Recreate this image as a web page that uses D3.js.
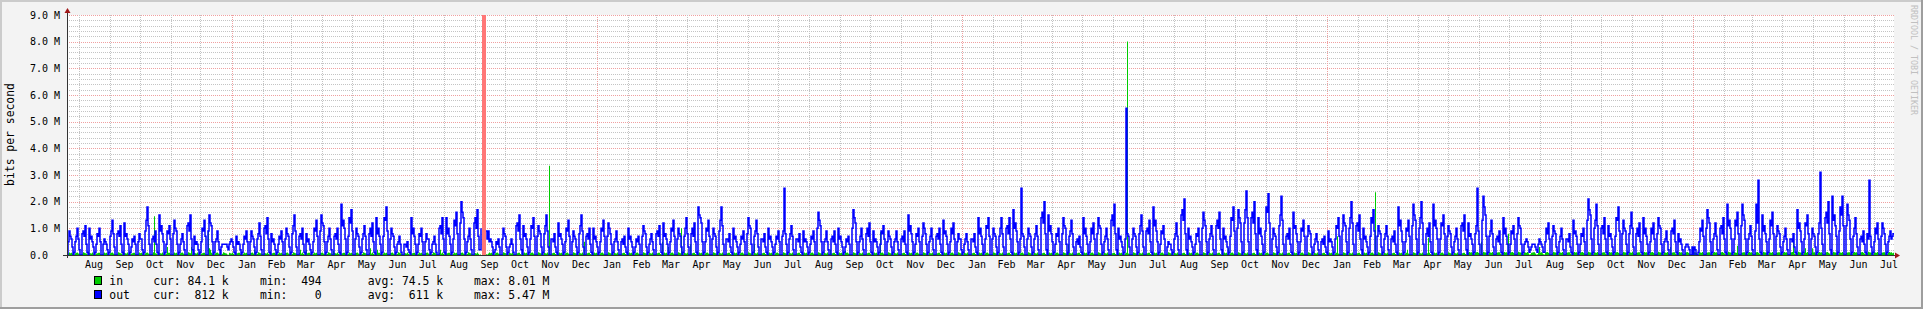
<!DOCTYPE html>
<html><head><meta charset="utf-8">
<script src="https://cdn.jsdelivr.net/npm/d3@7"></script>
<style>
html,body{margin:0;padding:0;background:#f3f3f3;}
svg{display:block;}
text{font-family:"DejaVu Sans Mono",monospace;white-space:pre;}
</style>
</head><body>
<svg id="chart" width="1923" height="309"></svg>
<script>
// ---------- data ----------
const startDate = "2008-07-20T12:00:00Z";   // first daily sample
const dayCount = 1827;
const outUnit = 1e5;   // outValues are in 0.1 Mbit/s
const inUnit = 1e4;    // inValues are in 0.01 Mbit/s
const outValues = [
0,5,9,7,6,3,0, 1,5,7,10,6,2,0, 0,8,9,7,11,4,1, 0,10,6,7,5,3,0,
1,4,8,7,10,5,0, 0,4,6,5,4,2,0, 1,7,9,13,8,3,0, 0,8,9,7,11,4,1,
0,12,7,8,6,4,0, 1,3,6,5,7,4,0, 0,5,8,6,6,2,0, 1,9,13,18,11,4,0,
0,6,7,5,9,4,1, 0,15,9,11,8,5,0, 1,4,9,8,11,6,0, 0,8,13,10,9,4,0,
1,4,6,8,5,2,0, 0,11,12,9,15,6,2, 0,7,4,5,4,2,0, 1,5,10,9,13,7,0,
0,9,15,12,11,5,0, 1,5,6,9,5,2,0, 3,4,4,4,4,4,3, 2,4,5,6,5,3,1,
0,7,4,5,4,2,0, 1,4,7,6,9,5,0, 0,5,9,7,6,3,0, 1,6,8,12,7,2,0,
0,10,11,8,14,6,1, 0,8,5,6,4,2,0, 1,4,7,6,9,5,0, 0,6,10,8,7,3,0,
1,8,11,15,9,3,0, 0,7,8,6,10,4,1, 0,8,5,6,4,2,0, 1,5,10,9,13,7,0,
0,9,15,12,11,5,0, 1,5,7,10,6,2,0, 0,7,8,6,10,4,1, 0,19,11,13,10,6,0,
1,7,14,12,17,9,0, 0,6,10,8,7,3,0, 1,6,8,11,7,2,0, 0,8,10,7,12,5,1,
0,14,8,10,7,4,0, 1,7,14,13,18,9,0, 0,6,10,8,7,3,0, 1,4,5,7,4,1,0,
0,4,4,3,5,2,1, 0,14,8,10,7,4,0, 1,4,8,7,10,5,0, 0,5,8,6,6,2,0,
1,4,5,7,4,1,0, 0,10,11,8,14,6,1, 0,14,8,10,7,4,0, 1,6,13,11,16,8,0,
0,12,20,16,14,6,0, 1,5,7,10,6,2,0, 0,12,14,10,17,7,2, 2,10,null,null,null,null,9,
6,9,5,6,5,3,0, 1,2,5,4,6,3,0, 0,6,10,8,7,3,0, 1,3,4,6,4,1,0,
0,11,12,9,15,6,2, 0,11,7,8,6,3,0, 1,6,11,10,14,7,0, 0,7,11,9,8,3,0,
1,8,11,15,9,3,0, 0,6,6,5,8,3,1, 0,12,7,8,6,4,0, 1,5,10,9,13,7,0,
0,5,9,7,6,3,0, 1,8,11,15,9,3,0, 0,7,8,6,10,4,1, 0,10,6,7,5,3,0,
1,5,10,9,13,7,0, 0,7,12,10,8,4,0, 1,5,6,9,5,2,0, 0,5,6,4,7,3,1,
0,10,6,7,5,3,0, 1,3,6,5,7,4,0, 0,7,11,9,8,3,0, 1,4,6,8,5,2,0,
0,8,9,7,11,4,1, 0,12,7,8,6,4,0, 1,5,10,9,13,7,0, 0,6,10,8,7,3,0,
1,7,10,14,8,3,0, 0,8,10,7,12,5,1, 0,18,15,14,12,5,0, 1,5,10,9,13,7,0,
0,6,10,8,7,3,0, 1,9,13,18,11,4,0, 0,6,6,5,8,3,1, 0,10,6,7,5,3,0,
1,4,7,6,9,5,0, 0,8,14,11,10,4,0, 1,7,9,13,8,3,0, 0,6,6,5,8,3,1,
0,10,6,7,5,3,0, 1,4,7,6,9,5,0, 0,7,9,25,8,4,0, 1,6,8,11,7,2,0,
0,6,6,5,8,3,1, 0,9,5,6,5,3,0, 1,4,7,6,9,5,0, 0,10,16,13,11,5,0,
1,5,6,9,5,2,0, 0,6,7,5,9,4,1, 0,10,6,7,5,3,0, 1,3,6,5,7,4,0,
0,10,17,14,12,5,0, 1,5,7,10,6,2,0, 0,8,10,7,12,5,1, 0,9,5,6,5,3,0,
1,4,9,8,11,6,0, 0,5,9,7,6,3,0, 1,5,6,9,5,2,0, 0,6,7,5,9,4,1,
0,15,9,11,8,5,0, 1,4,8,7,10,5,0, 0,7,12,10,8,4,0, 1,5,7,10,6,2,0,
0,7,8,6,10,4,1, 0,13,8,9,7,4,0, 1,5,10,8,12,6,0, 0,5,8,6,6,2,0,
1,4,6,8,5,2,0, 0,6,6,5,8,3,1, 0,14,8,10,7,4,0, 1,6,11,10,14,7,0,
0,6,10,8,7,3,0, 1,7,10,14,8,3,0, 0,10,11,8,14,6,1, 0,17,10,12,9,5,0,
1,6,25,8,7,3,0, 0,6,10,8,7,3,0, 1,6,8,11,7,2,0, 0,14,16,12,20,8,2,
0,15,9,11,8,5,0, 1,4,8,7,10,5,0, 0,8,14,11,10,4,0, 1,7,9,13,8,3,0,
0,5,6,4,7,3,1, 0,14,8,10,7,4,0, 1,5,10,8,12,6,0, 0,8,14,11,10,4,0,
1,5,7,10,6,2,0, 0,13,15,11,19,8,2, 0,10,6,7,5,3,0, 1,6,55,8,7,3,0,
0,6,10,8,7,3,0, 1,8,11,15,9,3,0, 0,9,10,8,13,5,1, 0,18,11,13,9,5,0,
1,4,9,8,11,6,0, 0,3,5,4,4,2,0, 1,6,8,12,7,2,0, 0,15,17,13,21,8,2,
0,10,6,7,5,3,0, 1,4,8,7,10,5,0, 0,10,16,13,11,5,0, 1,6,8,11,7,2,0,
0,11,13,10,16,6,2, 0,10,6,7,5,3,0, 1,7,14,13,18,9,0, 0,10,17,14,12,5,0,
1,12,17,24,14,5,0, 0,14,16,12,20,8,2, 0,14,8,10,7,4,0, 1,9,18,16,23,12,0,
0,6,10,8,7,3,0, 1,11,15,22,13,4,0, 0,7,8,6,10,4,1, 0,16,10,11,8,5,0,
1,5,10,9,13,7,0, 0,7,11,9,8,3,0, 1,4,6,8,5,2,0, 0,5,6,4,7,3,1,
0,9,5,6,5,3,0, 1,6,11,10,14,7,0, 0,9,15,12,11,5,0, 1,10,14,20,12,4,0,
0,11,12,9,15,6,2, 0,10,6,7,5,3,0, 1,7,14,12,17,9,0, 0,7,11,9,8,3,0,
1,6,8,11,7,2,0, 0,6,7,5,9,4,1, 0,18,11,13,9,5,0, 1,5,10,9,13,7,0,
0,11,19,15,13,6,0, 1,10,14,20,12,4,0, 0,8,10,7,12,5,1, 0,19,11,13,10,6,0,
1,6,12,11,15,8,0, 0,7,11,9,8,3,0, 1,5,7,10,6,2,0, 0,11,12,9,15,6,2,
0,12,7,8,6,4,0, 1,8,11,25,9,4,0, 0,13,22,18,15,7,0, 1,7,9,13,8,3,0,
0,6,7,5,9,4,1, 0,14,8,10,7,4,0, 1,4,9,8,11,6,0, 0,8,14,11,10,4,0,
1,4,5,6,5,3,1, 2,3,4,4,4,3,2, 1,4,6,5,4,3,1, 1,5,10,8,12,6,0,
0,7,11,9,8,3,0, 1,5,7,10,6,2,0, 0,6,6,5,8,3,1, 0,13,8,9,7,4,0,
1,4,8,7,10,5,0, 0,13,21,17,15,6,0, 1,10,13,19,11,4,0, 0,10,11,8,14,6,1,
0,11,7,8,6,3,0, 1,7,14,13,18,9,0, 0,8,13,10,9,4,0, 1,8,11,16,10,3,0,
0,8,10,7,12,5,1, 0,14,8,10,7,4,0, 1,5,10,8,12,6,0, 0,8,14,11,10,4,0,
1,5,6,9,5,2,0, 0,9,10,8,13,5,1, 0,8,5,6,4,2,0, 0,3,4,4,3,2,0,
0,3,0,3,2,0,0, 1,5,10,9,13,7,0, 0,10,17,14,12,5,0, 1,6,8,12,7,2,0,
0,10,11,8,14,6,1, 0,19,11,13,10,6,0, 1,6,13,11,16,8,0, 0,11,19,15,13,6,0,
1,6,8,11,7,2,0, 0,9,19,12,28,6,1, 0,15,9,11,8,5,0, 1,6,13,11,16,8,0,
0,7,11,9,8,3,0, 1,5,7,10,6,2,0, 0,6,6,5,8,3,1, 0,17,10,12,9,5,0,
1,6,12,11,15,8,0, 0,6,10,8,7,3,0, 1,8,12,31,10,4,0, 0,14,16,12,20,8,2,
0,22,13,15,11,7,0, 1,9,18,15,22,11,0, 0,11,19,15,13,6,0, 1,7,10,14,8,3,0,
0,6,7,5,9,4,1, 0,8,6,28,7,3,0, 1,5,10,8,12,6,0, 0,7,12,10,8,4,0,
1,5,7,9,6,7,8
];
const inValues = [
2,6,9,7,8,5,2, 1,7,8,9,6,4,1, 2,5,10,8,7,6,2, 1,8,7,6,9,5,1,
2,6,7,8,8,4,1, 2,6,9,7,8,5,2, 1,7,8,9,6,4,1, 2,5,10,8,7,6,2,
1,8,7,6,9,5,1, 2,6,7,8,8,4,1, 2,6,9,7,8,5,2, 1,7,8,9,6,4,1,
2,5,10,145,7,6,2, 1,8,7,6,9,5,1, 2,6,30,8,8,4,1, 2,6,9,7,8,5,2,
1,7,8,9,6,4,1, 2,5,10,8,7,30,2, 1,8,7,6,9,5,1, 2,6,7,8,8,4,1,
2,90,25,20,8,5,2, 1,7,8,9,6,4,1, 2,5,10,8,7,6,2, 1,8,7,6,9,5,1,
2,6,7,8,8,4,1, 2,6,9,7,8,5,2, 1,7,8,9,6,20,1, 2,5,10,8,7,6,2,
1,8,7,6,9,5,1, 2,6,7,8,8,4,1, 2,6,9,7,8,5,2, 1,7,8,9,6,4,1,
2,5,10,8,7,6,2, 1,8,20,6,9,5,1, 2,20,7,8,8,4,1, 2,6,9,7,8,5,2,
1,7,8,9,6,4,1, 2,5,10,8,7,6,2, 15,8,7,6,9,5,1, 2,6,7,8,8,4,1,
2,6,9,7,8,5,2, 1,7,8,9,6,4,1, 2,5,10,8,7,6,2, 1,8,25,6,9,5,1,
2,6,20,8,8,4,1, 2,6,9,7,8,5,2, 1,7,8,9,6,4,1, 2,5,10,8,7,6,2,
1,8,7,6,9,5,1, 2,6,7,8,8,4,1, 2,6,9,7,8,5,2, 1,7,8,9,6,4,1,
2,5,10,8,7,6,2, 1,8,20,6,9,5,1, 2,6,7,8,8,4,1, 2,6,9,7,8,5,2,
1,7,8,9,6,4,1, 2,5,10,8,7,6,2, 1,8,7,6,9,5,1, 2,110,null,null,null,null,3,
2,6,9,7,8,5,2, 1,7,8,9,6,4,1, 2,5,10,8,7,6,2, 1,8,7,6,9,5,1,
2,6,7,8,8,4,1, 2,6,9,7,8,5,2, 1,7,8,9,6,4,1, 2,5,10,8,7,6,2,
1,8,7,6,9,5,335, 2,6,7,8,8,4,1, 2,6,9,7,8,5,2, 1,7,8,9,6,4,1,
2,5,10,8,7,6,2, 1,8,7,6,9,5,50, 2,6,7,8,8,4,1, 2,6,9,7,8,5,2,
1,7,8,9,6,4,1, 2,5,10,8,7,6,2, 1,8,7,6,9,5,1, 2,6,7,8,8,4,1,
2,6,9,7,8,5,2, 1,7,8,9,6,4,1, 2,5,10,8,7,6,2, 1,8,7,6,9,5,1,
2,6,7,8,8,4,1, 50,6,9,7,8,5,30, 1,7,8,9,6,4,1, 2,5,10,8,7,100,2,
1,8,7,6,9,5,1, 40,6,7,8,8,4,1, 2,6,9,7,8,5,2, 1,7,8,9,6,4,1,
2,5,10,8,7,6,2, 1,8,7,6,9,5,1, 2,6,7,8,8,4,1, 2,6,9,7,8,5,2,
1,7,8,9,6,4,1, 2,5,10,8,7,6,2, 1,40,7,6,9,5,1, 2,6,7,8,8,4,1,
2,6,9,7,8,5,2, 1,7,8,9,6,4,1, 2,5,10,8,7,6,2, 1,8,7,6,9,5,1,
2,6,7,8,8,4,1, 2,6,9,7,8,5,2, 1,7,8,9,6,4,1, 2,5,10,8,7,6,2,
1,8,7,6,9,5,1, 20,6,7,8,8,4,1, 2,6,9,7,8,5,2, 1,15,8,9,6,4,1,
2,5,10,8,7,6,2, 1,8,7,6,9,5,1, 2,6,7,8,8,4,1, 2,6,9,7,8,5,2,
1,85,8,9,6,4,1, 2,5,10,8,7,6,2, 1,8,7,6,9,5,1, 2,6,7,8,8,4,1,
2,6,9,7,8,5,2, 1,7,8,9,6,4,1, 2,5,10,8,7,6,2, 1,8,7,6,9,5,1,
2,6,7,8,8,4,1, 2,6,9,7,8,5,2, 1,7,8,9,6,4,1, 2,5,10,8,7,6,2,
1,8,7,6,9,5,1, 2,6,7,8,8,4,1, 2,6,9,7,8,5,2, 1,7,8,9,6,4,1,
2,5,10,8,7,6,2, 1,8,7,6,9,5,1, 2,6,7,8,8,4,1, 2,6,9,7,8,5,2,
1,7,8,9,6,4,1, 2,5,10,8,7,6,2, 1,8,7,6,9,5,1, 2,6,7,8,8,4,1,
2,6,9,7,8,5,2, 1,7,8,9,6,4,1, 2,5,10,8,7,6,2, 40,8,7,6,9,5,1,
2,6,7,8,8,4,1, 2,6,9,7,8,5,2, 1,7,8,9,6,4,1, 2,5,10,8,7,6,2,
1,8,7,6,9,5,1, 2,6,7,8,8,4,1, 2,6,9,7,8,5,2, 1,7,8,801,6,4,1,
2,5,10,8,7,6,2, 1,8,7,6,9,5,1, 2,6,7,8,8,4,1, 2,6,9,7,8,5,2,
1,7,8,9,6,4,1, 2,5,10,8,7,6,2, 1,8,7,6,9,5,1, 2,6,7,8,8,4,1,
2,6,9,7,8,5,2, 1,7,8,9,6,4,1, 2,5,10,8,7,6,2, 1,8,7,6,9,5,1,
2,6,7,8,8,4,1, 2,6,9,7,8,5,25, 1,7,8,9,6,4,1, 2,5,10,8,7,6,2,
1,8,7,6,9,5,1, 2,6,7,8,8,4,1, 2,6,9,7,8,5,2, 1,7,8,9,6,4,1,
2,5,10,8,7,6,2, 1,8,7,6,9,5,1, 2,6,7,8,8,4,1, 2,6,9,7,8,5,2,
1,7,8,9,6,4,1, 2,5,10,8,7,6,2, 1,8,7,6,9,5,1, 2,6,7,8,8,4,1,
2,6,9,7,8,5,2, 1,7,8,70,6,4,1, 2,5,10,8,7,6,2, 1,8,7,6,9,5,1,
2,6,7,8,8,4,1, 2,6,9,7,8,5,2, 1,7,8,9,6,4,235, 2,5,10,8,7,6,2,
1,8,7,6,9,5,1, 2,6,7,8,8,4,1, 2,6,9,7,8,5,2, 1,7,8,20,6,4,1,
2,5,10,8,7,6,2, 1,8,7,6,9,5,1, 2,6,7,65,8,4,1, 2,6,9,7,8,5,2,
1,7,8,9,6,4,1, 2,5,10,8,7,6,2, 1,8,7,6,9,5,1, 2,6,7,8,8,4,1,
3,8,11,9,10,7,3, 2,9,10,11,8,6,2, 50,7,12,10,9,8,3, 2,10,9,8,11,7,2,
3,8,9,10,10,6,2, 3,8,11,9,10,7,80, 2,9,10,11,8,6,2, 3,7,12,10,9,8,3,
2,10,9,8,11,7,2, 3,8,9,10,10,6,2, 3,8,30,9,10,7,3, 2,9,10,11,8,6,2,
3,7,12,10,9,8,3, 2,10,9,8,11,7,2, 3,8,9,10,10,6,2, 3,8,11,9,10,7,3,
2,9,10,11,8,6,2, 3,7,12,10,9,8,3, 2,10,9,8,11,7,2, 3,8,9,10,10,6,2,
3,8,11,9,10,7,3, 2,9,10,11,8,6,2, 3,7,12,10,9,8,3, 2,10,9,8,11,7,2,
3,8,9,10,10,6,2, 3,8,11,9,10,7,3, 2,9,10,11,8,6,2, 3,7,12,10,9,8,3,
2,10,9,8,11,7,2, 30,8,9,10,10,6,2, 3,8,11,9,10,7,3, 2,9,10,11,8,6,2,
3,7,12,10,9,8,3, 2,10,9,8,11,7,2, 3,8,9,10,10,6,2, 3,8,11,9,10,7,3,
2,9,10,11,8,6,2, 3,7,12,10,9,8,3, 2,10,9,8,35,7,2, 3,8,9,10,10,6,2,
3,8,11,9,10,7,3, 2,9,10,11,8,6,2, 3,7,12,10,9,8,3, 2,10,9,8,11,7,2,
3,8,9,10,10,6,2, 3,8,11,9,10,7,3, 2,9,10,11,55,6,2, 3,7,12,10,9,8,3,
2,10,25,8,11,7,2, 3,8,25,10,10,6,2, 3,8,11,9,10,7,3, 2,9,10,11,8,6,2,
3,7,12,10,9,8,3, 2,10,9,8,11,7,2, 3,8,9,10,10,6,2, 3,8,11,9,10,7,3,
2,9,10,11,8,6,2, 3,7,12,10,9,8,3, 2,10,9,8,11,7,2, 3,8,9,10,10,6,2,
3,8,11,9,10,7,8
];
const unknownDays = [415, 416, 417, 418];   // day indexes with no data
const yTickValues = [0, 1e6, 2e6, 3e6, 4e6, 5e6, 6e6, 7e6, 8e6, 9e6];
const yTickLabels = ["0.0", "1.0 M", "2.0 M", "3.0 M", "4.0 M", "5.0 M", "6.0 M", "7.0 M", "8.0 M", "9.0 M"];
const yMax = 9e6;
const yTitle = "bits per second";
const watermark = "RRDTOOL / TOBI OETIKER";
const legendNames = ["in", "out"];
const legendColors = ["#00cc00", "#0000ff"];
const legendCur = ["cur: 84.1 k", "cur:  812 k"];
const legendMin = ["min:  494", "min:    0"];
const legendAvg = ["avg: 74.5 k", "avg:  611 k"];
const legendMax = ["max: 8.01 M", "max: 5.47 M"];

// ---------- layout ----------
const W = 1923, H = 309;
const L = 67, R = 1894, T = 15, B = 255;
const DAY = 86400000;
const t0 = new Date(startDate);
const t1 = new Date(+t0 + dayCount * DAY);

const svg = d3.select("#chart");
const x = d3.scaleUtc().domain([t0, t1]).range([L, R]);
const y = d3.scaleLinear().domain([0, yMax]).range([B, T]);

// background + shading
svg.append("rect").attr("width", W).attr("height", H).attr("fill", "#f3f3f3");
svg.append("rect").attr("x", 0).attr("y", 0).attr("width", W).attr("height", 2).attr("fill", "#cbcbcb");
svg.append("rect").attr("x", 0).attr("y", 0).attr("width", 2).attr("height", H).attr("fill", "#cbcbcb");
svg.append("rect").attr("x", 0).attr("y", H - 2).attr("width", W).attr("height", 2).attr("fill", "#9e9e9e");
svg.append("rect").attr("x", W - 2).attr("y", 0).attr("width", 2).attr("height", H).attr("fill", "#9e9e9e");

// canvas
svg.append("rect").attr("x", L).attr("y", T).attr("width", R - L).attr("height", B - T).attr("fill", "#ffffff");

const grid = svg.append("g").attr("shape-rendering", "crispEdges");
const minorColor = "#c4c4c4", majorColor = "#f0a0a0";

// horizontal grid
y.ticks(45).forEach(v => {
  const major = Math.abs(v / 1e6 - Math.round(v / 1e6)) < 1e-9;
  if (v === 0) return;
  const yy = Math.round(y(v)) + 0.5;
  grid.append("line").attr("x1", L).attr("x2", R).attr("y1", yy).attr("y2", yy)
    .attr("stroke", major ? majorColor : minorColor).attr("stroke-dasharray", "1,1");
});
// vertical grid
const monthStarts = d3.utcMonth.range(d3.utcMonth.ceil(t0), t1);
monthStarts.forEach(m => {
  const xx = Math.round(x(m)) + 0.5;
  const major = m.getUTCMonth() === 0;
  grid.append("line").attr("x1", xx).attr("x2", xx).attr("y1", T).attr("y2", B)
    .attr("stroke", major ? majorColor : minorColor).attr("stroke-dasharray", "1,1");
});

// series
const mk = (vals, unit) => {
  const pts = vals.map((v, i) => ({ t: new Date(+t0 + i * DAY), v: v == null ? null : v * unit }));
  pts.push({ t: t1, v: pts[pts.length - 1].v });
  return pts;
};
const inData = mk(inValues, inUnit);
const outData = mk(outValues, outUnit);

const area = d3.area().curve(d3.curveStepAfter)
  .defined(d => d.v != null)
  .x(d => x(d.t)).y0(y(0)).y1(d => y(d.v));
svg.append("path").datum(inData).attr("d", area).attr("fill", "#00cc00");

const line = d3.line().curve(d3.curveStepAfter)
  .defined(d => d.v != null)
  .x(d => x(d.t)).y(d => y(d.v));
svg.append("path").datum(outData).attr("d", line).attr("fill", "none")
  .attr("stroke", "#0000ff").attr("stroke-width", 1.5).attr("stroke-linejoin", "miter");

// unknown periods
unknownDays.forEach(d => {
  const a = new Date(+t0 + d * DAY), b = new Date(+t0 + (d + 1) * DAY);
  svg.append("rect").attr("x", x(a)).attr("y", T).attr("width", x(b) - x(a)).attr("height", B - T)
    .attr("fill", "#ff7777");
});

// axes
const axisColor = "#333333", arrowColor = "#a01818";
svg.append("line").attr("x1", 63).attr("x2", R + 1).attr("y1", B + 0.5).attr("y2", B + 0.5)
  .attr("stroke", axisColor).attr("shape-rendering", "crispEdges");
svg.append("line").attr("x1", L + 0.5).attr("x2", L + 0.5).attr("y1", B + 3).attr("y2", 11)
  .attr("stroke", axisColor).attr("shape-rendering", "crispEdges");
svg.append("path").attr("d", `M${L - 2.5},${13} L${L + 3.5},${13} L${L + 0.5},${8} Z`).attr("fill", arrowColor);
svg.append("path").attr("d", `M${R + 1},${B - 2.5} L${R + 1},${B + 3.5} L${R + 6},${B + 0.5} Z`).attr("fill", arrowColor);

// y labels
yTickValues.forEach((v, i) => {
  svg.append("text").attr("x", 30).attr("y", y(v) + 3.6).attr("font-size", 10).attr("fill", "#000")
    .text(yTickLabels[i]);
});
// y title
svg.append("text").attr("transform", `translate(14,134.5) rotate(-90)`).attr("text-anchor", "middle")
  .attr("font-size", 11.4).attr("fill", "#000").text(yTitle);

// x labels (centered on each month)
const fmt = d3.utcFormat("%b");
d3.utcMonth.range(d3.utcMonth.floor(t0), t1).forEach(m => {
  const mid = new Date((+m + +d3.utcMonth.offset(m, 1)) / 2);
  if (mid < t0 || mid > t1) return;
  svg.append("text").attr("x", x(mid)).attr("y", 267.5).attr("text-anchor", "middle")
    .attr("font-size", 10).attr("fill", "#000").text(fmt(m));
});

// legend
const rowsY = [285, 299];
legendNames.forEach((n, i) => {
  const ry = rowsY[i];
  svg.append("rect").attr("x", 94.5).attr("y", ry - 8.5).attr("width", 7).attr("height", 8)
    .attr("fill", legendColors[i]).attr("stroke", "#000").attr("stroke-width", 1).attr("shape-rendering", "crispEdges");
  const cols = [[109.3, n], [153.3, legendCur[i]], [260, legendMin[i]], [367.7, legendAvg[i]], [474, legendMax[i]]];
  cols.forEach(([cx, s]) => svg.append("text").attr("x", cx).attr("y", ry).attr("font-size", 11.4).attr("fill", "#000").text(s));
});

// watermark
svg.append("text").attr("transform", "translate(1910.5,5) rotate(90)").attr("font-size", 8.3)
  .attr("fill", "#c0c0c0").text(watermark);
</script>
</body></html>
